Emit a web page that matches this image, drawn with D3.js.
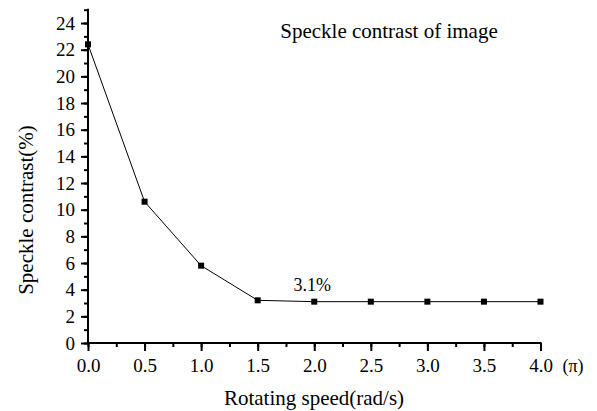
<!DOCTYPE html>
<html><head><meta charset="utf-8">
<script src="https://cdn.jsdelivr.net/npm/d3@7/dist/d3.min.js"></script>
<style>body{margin:0;background:#fff}svg{display:block}text{font-family:"Liberation Serif","Times New Roman",serif;fill:#000}</style>
</head><body>
<script>
const speeds = [0.0, 0.5, 1.0, 1.5, 2.0, 2.5, 3.0, 3.5, 4.0];
const contrast = [22.4, 10.6, 5.8, 3.2, 3.1, 3.1, 3.1, 3.1, 3.1];
const xTicks = [0, 0.5, 1, 1.5, 2, 2.5, 3, 3.5, 4];
const yTicks = [0, 2, 4, 6, 8, 10, 12, 14, 16, 18, 20, 22, 24];
const titleText = "Speckle contrast of image";
const xLabel = "Rotating speed(rad/s)";
const yLabel = "Speckle contrast(%)";
const annotation = "3.1%";

const W = 597, H = 411;
const svg = d3.select("body").append("svg").attr("width", W).attr("height", H);
const x = d3.scaleLinear().domain([0, 4]).range([88, 540.5]);
const y = d3.scaleLinear().domain([0, 25]).range([343, 9.7]);

// minor ticks
svg.append("g").attr("transform", "translate(0,343)")
  .call(d3.axisBottom(x).tickValues(d3.range(0, 4.01, 0.25)).tickSize(4).tickFormat(""))
  .call(g => g.select(".domain").remove())
  .selectAll("line").attr("stroke-width", 2);
svg.append("g").attr("transform", "translate(88,0)")
  .call(d3.axisLeft(y).tickValues(d3.range(0, 25.5, 1)).tickSize(4).tickFormat(""))
  .call(g => g.select(".domain").remove())
  .selectAll("line").attr("stroke-width", 2);

// major axes
const xa = svg.append("g").attr("transform", "translate(0,343)")
  .call(d3.axisBottom(x).tickValues(xTicks).tickSize(8).tickSizeOuter(0).tickPadding(8).tickFormat(d3.format(".1f")));
xa.select(".domain").attr("stroke-width", 2).attr("d", `M${x(0)},0H${x(4)+1}`);
xa.selectAll("line").attr("stroke-width", 2);
xa.selectAll("text").style("font-size", "19px").style("font-family", "'Liberation Serif', serif");

const ya = svg.append("g").attr("transform", "translate(88,0)")
  .call(d3.axisLeft(y).tickValues(yTicks).tickSize(7).tickSizeOuter(0).tickPadding(6));
ya.select(".domain").attr("stroke-width", 2).attr("d", `M0,${y(25)-1}V${y(0)+1}`);
ya.selectAll("line").attr("stroke-width", 2);
ya.selectAll("text").style("font-size", "19px").style("font-family", "'Liberation Serif', serif");

// line
const data = speeds.map((s, i) => ({s, v: contrast[i]}));
svg.append("path").datum(data)
  .attr("fill", "none").attr("stroke", "#000").attr("stroke-width", 1)
  .attr("d", d3.line().x(d => x(d.s)).y(d => y(d.v)));
svg.selectAll("rect.m").data(data).enter().append("rect").attr("class", "m")
  .attr("x", d => x(d.s) - 3).attr("y", d => y(d.v) - 3)
  .attr("width", 6).attr("height", 6).attr("fill", "#000");

// texts
svg.append("text").attr("x", 389).attr("y", 38).attr("text-anchor", "middle")
  .style("font-size", "21px").text(titleText);
svg.append("text").attr("x", x(2) - 2).attr("y", 291).attr("text-anchor", "middle")
  .style("font-size", "18px").text(annotation);
svg.append("text").attr("x", 573).attr("y", 372).attr("text-anchor", "middle")
  .style("font-size", "18px").text("(π)");
svg.append("text").attr("x", 314).attr("y", 405).attr("text-anchor", "middle")
  .style("font-size", "21px").text(xLabel);
svg.append("text").attr("transform", "translate(33,210) rotate(-90)").attr("text-anchor", "middle")
  .style("font-size", "21px").text(yLabel);
</script>
</body></html>
